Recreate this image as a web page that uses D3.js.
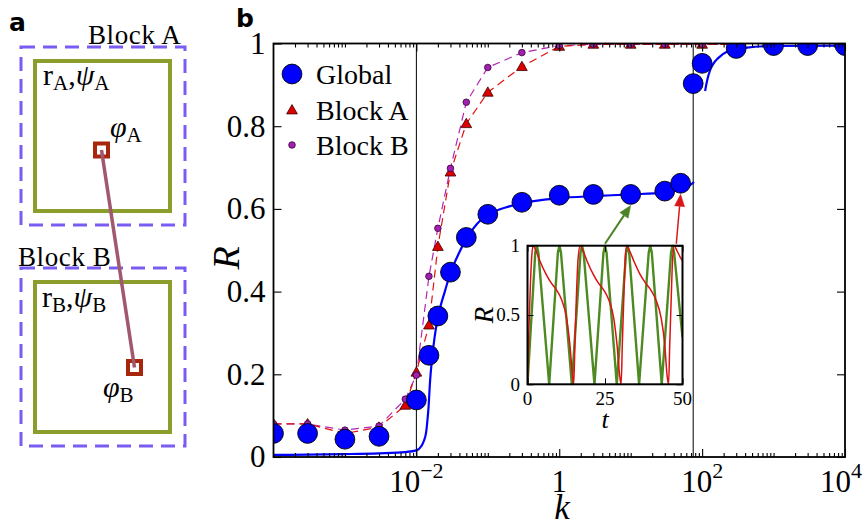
<!DOCTYPE html>
<html><head><meta charset="utf-8">
<script src="https://cdn.jsdelivr.net/npm/d3@7"></script>
<style>
body{margin:0;background:#fff}
svg{display:block}
text{font-family:"Liberation Serif","Times New Roman",serif;fill:#000}
</style>
</head><body>
<svg id="c" width="863" height="526"></svg>
<script>
// ---------------- DATA ----------------
const kGlobal = [1e-4,3e-4,1e-3,3e-3,1e-2,0.015,0.02,0.03,0.05,0.1,0.3,1,3,10,30,50,75,100,300,1000,3000,1e4];
const RGlobal = [0.057,0.057,0.043,0.050,0.138,0.246,0.341,0.447,0.531,0.587,0.616,0.633,0.635,0.635,0.643,0.662,0.903,0.952,0.988,0.995,0.995,0.995];

const kBlock  = [1e-4,3e-4,1e-3,3e-3,7e-3,1e-2,0.015,0.02,0.03,0.05,0.1,0.3,1,3,10,30,100,300];
const RBlockA = [0.080,0.080,0.057,0.072,0.125,0.205,0.319,0.509,0.689,0.806,0.882,0.944,0.993,0.998,0.998,0.998,0.998,0.998];
const RBlockB = [0.080,0.080,0.065,0.075,0.140,0.198,0.437,0.553,0.698,0.858,0.942,0.978,0.995,0.998,0.998,0.998,0.998,0.998];

// theory curve for Global (two branches)
const kTheory1 = [1e-4,1e-3,3e-3,7e-3,0.01,0.0117,0.0128,0.0137,0.0143,0.0148,0.0155,0.0165,0.018,0.02,0.025,0.03,0.04,0.05,0.07,0.1,0.2,0.3,1,3,10,30,50,65,77];
const RTheory1 = [0.005,0.007,0.009,0.012,0.016,0.026,0.040,0.060,0.090,0.120,0.180,0.235,0.290,0.338,0.400,0.445,0.495,0.528,0.563,0.585,0.606,0.614,0.626,0.631,0.635,0.640,0.647,0.655,0.665];
const kTheory2 = [110,118,129,145,166,223,425,1000,1e4];
const RTheory2 = [0.885,0.912,0.935,0.952,0.964,0.980,0.990,0.994,0.995];

// critical couplings (vertical lines)
const kLines = [0.01, 75];

// inset time series
const tGreen = [0,2.5,3.0,3.5,7.0,9.8,10.3,10.8,14.3,17.1,17.6,18.1,21.6,24.5,25.0,25.5,28.8,31.8,32.3,32.8,36.0,39.1,39.6,40.1,43.3,46.3,46.8,47.3,50];
const RGreen = [0,0.95,1,0.95,0,0.95,1,0.95,0,0.95,1,0.95,0,0.95,1,0.95,0,0.95,1,0.95,0,0.95,1,0.95,0,0.95,1,0.95,0.34];
const tRed = [0,0.4,0.9,1.3,1.8,2.8,4.0,6.1,7.7,9.4,11.0,12.6,13.7,14.5,14.9,15.3,15.8,16.3,17.0,18.0,19.2,21.3,22.9,24.6,26.2,27.8,28.9,29.7,30.2,30.6,31.1,31.5,32.0,33.0,34.3,36.4,38.1,39.8,41.4,43.1,44.3,45.0,45.5,45.9,46.4,46.8,47.3,48.3,49.2,50];
const RRed = [0,0.35,0.7,0.9,1,0.96,0.89,0.79,0.73,0.68,0.61,0.48,0.28,0.07,0,0.3,0.65,0.9,1,0.96,0.89,0.79,0.73,0.68,0.61,0.48,0.28,0.07,0,0.3,0.65,0.9,1,0.96,0.89,0.79,0.73,0.68,0.61,0.48,0.28,0.07,0,0.3,0.65,0.9,1,0.96,0.92,0.89];

// ticks
const yTicks = [0,0.2,0.4,0.6,0.8,1];
const xMajorExp = [-2,0,2,4];
const insetXTicks = [0,25,50];
const insetYTicks = [0,0.5,1];
const legendItems = ["Global","Block A","Block B"];

// ---------------- DRAW ----------------
const svg = d3.select("#c");
const W=863;
const X0=273.5, X1=845, Y0=457, Y1=43.5;
const x = d3.scaleLog().domain([1e-4,1e4]).range([X0,X1]);
const y = d3.scaleLinear().domain([0,1]).range([Y0,Y1]);

const blue="#0000ff", redF="#dd0000", purF="#a020b0";
const lineRed="#e01010", linePur="#b424b4";

// ===== panel a =====
const pa = svg.append("g");
pa.append("text").text("a").attr("x",9).attr("y",31)
  .style("font-family","'DejaVu Sans',sans-serif").style("font-weight","bold").style("font-size","25px");
const boxes=[{dy:0},{dy:221}];
boxes.forEach(b=>{
  pa.append("rect").attr("x",21).attr("y",47+b.dy).attr("width",164).attr("height",178)
    .attr("fill","none").attr("stroke","#7b5cf2").attr("stroke-width",3).attr("stroke-dasharray","14,8");
  pa.append("rect").attr("x",35).attr("y",61+b.dy).attr("width",135).attr("height",150)
    .attr("fill","none").attr("stroke","#8c9d2c").attr("stroke-width",4);
});
function sub(g,xp,yp,parts,size){
  const t=g.append("text").attr("x",xp).attr("y",yp).style("font-size",size+"px");
  parts.forEach(p=>{
    const ts=t.append("tspan").text(p.s);
    if(p.it) ts.style("font-style","italic");
    if(p.sub) ts.style("font-size",(size*0.7)+"px").attr("dy",p.dy);
    else if(p.dy) ts.attr("dy",p.dy);
  });
  return t;
}
pa.append("text").text("Block A").attr("x",88).attr("y",44).style("font-size","27px").style("letter-spacing","0.6px");
pa.append("text").text("Block B").attr("x",18).attr("y",266).style("font-size","27px").style("letter-spacing","0.6px");
sub(pa,43,85,[{s:"r"},{s:"A",sub:1,dy:5},{s:",",dy:-5},{s:"ψ",it:1},{s:"A",sub:1,dy:5}],30);
sub(pa,42,307,[{s:"r"},{s:"B",sub:1,dy:5},{s:",",dy:-5},{s:"ψ",it:1},{s:"B",sub:1,dy:5}],30);
sub(pa,110,137,[{s:"φ",it:1},{s:"A",sub:1,dy:5}],30);
sub(pa,103,397,[{s:"φ",it:1},{s:"B",sub:1,dy:5}],30);
const sqA=[101.5,150], sqB=[134.5,367.5];
[sqA,sqB].forEach(s=>{
  pa.append("rect").attr("x",s[0]-6.5).attr("y",s[1]-6.5).attr("width",13).attr("height",13)
    .attr("fill","#fff").attr("stroke","#a8260c").attr("stroke-width",4);
});
pa.append("line").attr("x1",sqA[0]).attr("y1",sqA[1]).attr("x2",sqB[0]).attr("y2",sqB[1])
  .attr("stroke","#a0586e").attr("stroke-width",3.5);

// ===== panel b =====
svg.append("text").text("b").attr("x",236).attr("y",27)
  .style("font-family","'DejaVu Sans',sans-serif").style("font-weight","bold").style("font-size","25px");

svg.append("defs").append("clipPath").attr("id","clipMain")
  .append("rect").attr("x",X0).attr("y",Y1).attr("width",X1-X0).attr("height",Y0-Y1);
const plot = svg.append("g").attr("clip-path","url(#clipMain)");

// vertical lines
plot.selectAll(".vl").data(kLines).enter().append("line")
  .attr("x1",d=>x(d)).attr("x2",d=>x(d)).attr("y1",Y1).attr("y2",Y0)
  .attr("stroke","#000").attr("stroke-width",1);

// theory line
const lineGen = d3.line().x(d=>x(d[0])).y(d=>y(d[1])).curve(d3.curveMonotoneX);
[[kTheory1,RTheory1],[kTheory2,RTheory2]].forEach(([ks,rs])=>{
  plot.append("path").attr("d",lineGen(ks.map((k,i)=>[k,rs[i]])))
    .attr("fill","none").attr("stroke",blue).attr("stroke-width",2.2);
});

// block dashed lines
const lin = d3.line().x(d=>x(d[0])).y(d=>y(d[1]));
plot.append("path").attr("d",lin(kBlock.map((k,i)=>[k,RBlockB[i]])))
  .attr("fill","none").attr("stroke",linePur).attr("stroke-width",1.2).attr("stroke-dasharray","8,5");
plot.append("path").attr("d",lin(kBlock.map((k,i)=>[k,RBlockA[i]])))
  .attr("fill","none").attr("stroke",lineRed).attr("stroke-width",1.2).attr("stroke-dasharray","8,5");

const tri = d3.symbol().type(d3.symbolTriangle).size(50);
function drawTri(g,cx,cy){ g.append("path").attr("d",tri()).attr("transform",`translate(${cx},${cy+0.8})`)
  .attr("fill",redF).attr("stroke","#3a0000").attr("stroke-width",0.8); }
function drawPur(g,cx,cy){ g.append("circle").attr("cx",cx).attr("cy",cy).attr("r",3.3)
  .attr("fill",purF).attr("stroke","#3a003a").attr("stroke-width",0.8); }
function drawGlob(g,cx,cy){ g.append("circle").attr("cx",cx).attr("cy",cy).attr("r",9.9)
  .attr("fill",blue).attr("stroke","#000").attr("stroke-width",0.9); }

kBlock.forEach((k,i)=>drawTri(plot,x(k),y(RBlockA[i])));
kBlock.forEach((k,i)=>drawPur(plot,x(k),y(RBlockB[i])));
kGlobal.forEach((k,i)=>drawGlob(plot,x(k),y(RGlobal[i])));

// frame
svg.append("rect").attr("x",X0).attr("y",Y1).attr("width",X1-X0).attr("height",Y0-Y1)
  .attr("fill","none").attr("stroke","#000").attr("stroke-width",1.8);

// ticks
const majors = xMajorExp.map(e=>Math.pow(10,e));
const minors = [];
for(let e=-4;e<4;e++){ for(let m=1;m<10;m++){ const v=m*Math.pow(10,e); if(!(m===1 && xMajorExp.includes(e)) && v>1e-4) minors.push(v);} }
function styleAxis(g){ g.select(".domain").remove(); g.selectAll("line").attr("stroke","#000").attr("stroke-width",1.1); g.selectAll("text").remove(); }
svg.append("g").attr("transform",`translate(0,${Y0})`).call(d3.axisBottom(x).tickValues(majors).tickSize(-8)).call(styleAxis);
svg.append("g").attr("transform",`translate(0,${Y1})`).call(d3.axisTop(x).tickValues(majors).tickSize(-8)).call(styleAxis);
svg.append("g").attr("transform",`translate(0,${Y0})`).call(d3.axisBottom(x).tickValues(minors).tickSize(-4)).call(styleAxis);
svg.append("g").attr("transform",`translate(0,${Y1})`).call(d3.axisTop(x).tickValues(minors).tickSize(-4)).call(styleAxis);
svg.append("g").attr("transform",`translate(${X1},0)`).call(d3.axisRight(y).tickValues(yTicks).tickSize(-8)).call(styleAxis);
const yAx = svg.append("g").attr("transform",`translate(${X0},0)`)
  .call(d3.axisLeft(y).tickValues(yTicks).tickSize(-8).tickPadding(8).tickFormat(d=>d===0?"0":d===1?"1":d.toFixed(1)));
yAx.select(".domain").remove();
yAx.selectAll("line").attr("stroke","#000").attr("stroke-width",1.1);
yAx.selectAll("text").style("font-size","31px").style("font-family","'Liberation Serif',serif").attr("fill","#000");

// x tick labels (kept inside the picture)
xMajorExp.forEach(e=>{
  const t = svg.append("text").attr("x",x(Math.pow(10,e))).attr("y",492).attr("text-anchor","middle").style("font-size","31px");
  if(e===0){ t.text("1"); }
  else { t.append("tspan").text("10"); t.append("tspan").text(e<0?"\u2212"+(-e):String(e)).attr("dy",-14).style("font-size","22px"); }
  const bb = t.node().getBBox();
  if(bb.x+bb.width > W-1) t.attr("x", +t.attr("x") - (bb.x+bb.width-(W-1)));
});

// axis labels
svg.append("text").text("k").attr("x",562).attr("y",519).attr("text-anchor","middle")
  .style("font-size","35px").style("font-style","italic");
svg.append("text").text("R").attr("transform","translate(239,258) rotate(-90)").attr("text-anchor","middle")
  .style("font-size","38px").style("font-style","italic");

// legend
const legY=[74,110,145];
drawGlob(svg,292,legY[0]); drawTri(svg,292,legY[1]); drawPur(svg,292,legY[2]);
legendItems.forEach((s,i)=>svg.append("text").text(s).attr("x",316).attr("y",legY[i]+9.5).style("font-size","28px"));

// ===== inset =====
const IX0=527.5, IX1=682.5, IY0=384.3, IY1=245.7;
const xi = d3.scaleLinear().domain([0,50]).range([IX0,IX1]);
const yi = d3.scaleLinear().domain([0,1]).range([IY0,IY1]);
svg.append("rect").attr("x",IX0).attr("y",IY1).attr("width",IX1-IX0).attr("height",IY0-IY1).attr("fill","#fff");
svg.append("defs").append("clipPath").attr("id","clipIn")
  .append("rect").attr("x",IX0).attr("y",IY1-1).attr("width",IX1-IX0).attr("height",IY0-IY1+2);
const ins = svg.append("g").attr("clip-path","url(#clipIn)");
const li = d3.line().x(d=>xi(d[0])).y(d=>yi(d[1]));
const green="#4d8a22", red="#dd1111";
ins.append("path").attr("d",li(tGreen.map((t,i)=>[t,RGreen[i]]))).attr("fill","none").attr("stroke",green).attr("stroke-width",2.4).attr("stroke-linejoin","round");
ins.append("path").attr("d",li.curve(d3.curveMonotoneX)(tRed.map((t,i)=>[t,RRed[i]]))).attr("fill","none").attr("stroke",red).attr("stroke-width",1.5);
function styleIn(g){ g.select(".domain").remove(); g.selectAll("line").attr("stroke","#000").attr("stroke-width",1); g.selectAll("text").remove(); }
svg.append("g").attr("transform",`translate(0,${IY0})`).call(d3.axisBottom(xi).tickValues(insetXTicks).tickSize(-6)).call(styleIn);
svg.append("g").attr("transform",`translate(0,${IY1})`).call(d3.axisTop(xi).tickValues(insetXTicks).tickSize(-6)).call(styleIn);
svg.append("g").attr("transform",`translate(${IX0},0)`).call(d3.axisLeft(yi).tickValues(insetYTicks).tickSize(-6)).call(styleIn);
svg.append("g").attr("transform",`translate(${IX1},0)`).call(d3.axisRight(yi).tickValues(insetYTicks).tickSize(-6)).call(styleIn);
svg.append("rect").attr("x",IX0).attr("y",IY1).attr("width",IX1-IX0).attr("height",IY0-IY1)
  .attr("fill","none").attr("stroke","#000").attr("stroke-width",2);
insetXTicks.forEach(t=>svg.append("text").text(String(t)).attr("x",xi(t)).attr("y",405).attr("text-anchor","middle").style("font-size","19px"));
insetYTicks.forEach(v=>svg.append("text").text(String(v)).attr("x",520).attr("y",yi(v)+6.3).attr("text-anchor","end").style("font-size","19px"));
svg.append("text").text("t").attr("x",xi(25)).attr("y",428).attr("text-anchor","middle").style("font-size","26px").style("font-style","italic");
svg.append("text").text("R").attr("transform",`translate(493,${yi(0.5)}) rotate(-90)`).attr("text-anchor","middle").style("font-size","27px").style("font-style","italic");

// arrows (from inset to global points)
function arrow(x1,y1,x2,y2,col,w){
  const ang=Math.atan2(y2-y1,x2-x1), L=12, Hw=5;
  const bx=x2-L*Math.cos(ang), by=y2-L*Math.sin(ang);
  svg.append("line").attr("x1",x1).attr("y1",y1).attr("x2",bx).attr("y2",by).attr("stroke",col).attr("stroke-width",w);
  const px=-Math.sin(ang)*Hw, py=Math.cos(ang)*Hw;
  svg.append("path").attr("d",`M${x2},${y2}L${bx+px},${by+py}L${bx-px},${by-py}Z`).attr("fill",col).attr("stroke",col).attr("stroke-width",0.5);
}
const iG = kGlobal.indexOf(10), iR = kGlobal.indexOf(50);
arrow(xi(25),yi(1)-2,x(kGlobal[iG]),y(RGlobal[iG])+11,"#4a8424",2);
arrow(xi(48),yi(1)-2,x(kGlobal[iR]),y(RGlobal[iR])+11,"#d81818",1.5);
</script>
</body></html>
